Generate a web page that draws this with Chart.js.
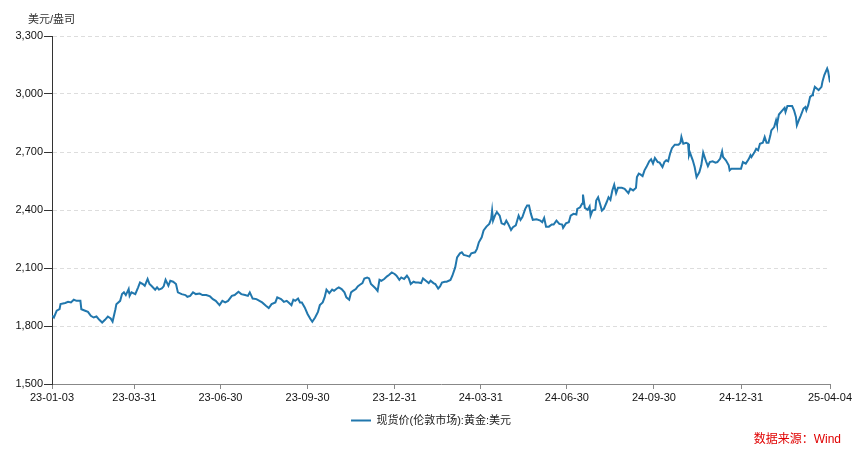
<!DOCTYPE html>
<html>
<head>
<meta charset="utf-8">
<title>现货价(伦敦市场):黄金:美元</title>
<script src="https://cdn.jsdelivr.net/npm/chart.js@4.4.1/dist/chart.umd.min.js"></script>
<style>
    html, body { margin: 0; padding: 0; background: #fff; }
    #wrap { width: 864px; height: 458px; }
</style>
</head>
<body>
<div id="wrap"><canvas id="goldChart" width="864" height="458"></canvas></div>
<script>
// days counted from 2023-01-03
const dayOffsets = [
    0, 2, 5, 8, 9, 14, 17, 20, 23, 26, 30, 31,
    35, 38, 41, 44, 47, 50, 53, 56, 59, 62, 64, 67,
    68, 72, 74, 76, 78, 81, 82, 84, 88, 91, 93, 96,
    98, 101, 103, 105, 109, 111, 113, 116, 118, 120, 123, 125,
    128, 131, 133, 137, 141, 143, 146, 149, 152, 156, 159, 163,
    167, 170, 173, 177, 180, 183, 186, 190, 193, 197, 200, 204,
    207, 209, 212, 216, 222, 226, 229, 232, 236, 238, 242, 245,
    248, 250, 253, 255, 257, 260, 262, 264, 267, 270, 273, 275,
    278, 281, 283, 286, 288, 290, 293, 296, 298, 301, 303, 306,
    309, 311, 314, 316, 318, 321, 323, 325, 328, 330, 333, 335,
    337, 339, 342, 344, 346, 348, 351, 354, 356, 359, 362, 364,
    367, 369, 372, 375, 377, 379, 382, 384, 387, 390, 392, 395,
    398, 400, 403, 405, 408, 410, 412, 415,
    417, 421, 423, 426, 428, 431, 433, 435, 438, 441, 443, 447,
    449, 451, 454, 456, 459, 462, 464, 465, 466, 468, 470, 473,
    475, 478, 480, 482, 485, 487, 490, 493, 495, 497, 500, 502,
    504, 506, 508, 512, 516, 518, 520, 522, 525, 528, 530, 533,
    536, 539, 540, 543, 546, 548, 551, 554, 555, 558, 560, 561,
    563, 566, 568, 569, 571, 574, 575, 577, 579, 581, 583, 586,
    588, 590, 592, 594, 596, 598, 602, 605, 609, 611, 614, 617, 618, 620,
    622, 624, 626, 628, 631, 633, 635, 637, 640, 642, 645, 647,
    649, 651, 653, 655, 658, 662, 664, 665, 667, 670, 672, 673,
    674, 677, 679, 681, 684, 686, 688, 691, 693, 695, 698, 701,
    703, 706, 708, 709, 712, 715, 716, 718, 722, 725, 728, 730,
    733, 736, 738, 739, 742, 744, 746, 748, 751, 753, 755, 757,
    759, 760, 763, 765, 766, 768, 771, 774, 775, 777, 780, 782,
    784, 786, 787, 789, 791, 794, 796, 797, 799, 801, 803, 804,
    806, 808, 810, 813, 814, 816, 819, 820, 822
];

// 美元/盎司
const goldPrices = [
    1853, 1844, 1879, 1887, 1913, 1919, 1925, 1922, 1936, 1930, 1930, 1887,
    1879, 1873, 1853, 1844, 1849, 1832, 1818, 1832, 1849, 1839, 1823, 1887,
    1913, 1930, 1965, 1974, 1960, 1991, 1956, 1974, 1965, 2000, 2025, 2017,
    2008, 2043, 2017, 2008, 1988, 2000, 1988, 1994, 2005, 2039, 2008, 2034,
    2029, 2017, 1974, 1965, 1960, 1951, 1956, 1974, 1965, 1968, 1960, 1960,
    1953, 1939, 1930, 1908, 1930, 1922, 1930, 1956, 1960, 1977, 1965, 1960,
    1956, 1974, 1942, 1939, 1922, 1905, 1893, 1913, 1922, 1948, 1939, 1925,
    1930, 1922, 1908, 1936, 1930, 1942, 1922, 1922, 1896, 1862, 1836, 1822,
    1844, 1873, 1908, 1922, 1948, 1988, 1970, 1988, 1982, 1994, 2000, 1991,
    1974, 1948, 1936, 1974, 1982, 1991, 2005, 2012, 2022, 2046, 2051, 2046,
    2017, 2008, 1994, 1982, 2039, 2034, 2043, 2057, 2064, 2077, 2069, 2060,
    2039, 2051, 2043, 2060, 2046, 2017, 2029, 2025, 2025, 2022, 2046, 2034,
    2022, 2034, 2022, 2017, 1994, 2005, 2025, 2029,
    2029, 2038, 2060, 2103, 2155, 2176, 2181, 2168, 2164, 2159, 2176, 2181,
    2199, 2233, 2259, 2294, 2314, 2328, 2354, 2397, 2345, 2371, 2389, 2371,
    2331, 2325, 2345, 2328, 2297, 2311, 2320, 2371, 2349, 2363, 2406, 2423,
    2423, 2380, 2349, 2352, 2345, 2337, 2359, 2314, 2314, 2325, 2325, 2345,
    2328, 2325, 2308, 2331, 2337, 2371, 2380, 2377, 2406, 2414, 2432, 2480,
    2411, 2401, 2418, 2371, 2397, 2401, 2449, 2466, 2432, 2397, 2406, 2440,
    2466, 2453, 2501, 2531, 2487, 2515, 2515, 2510, 2487, 2510, 2501, 2515, 2570, 2588,
    2583, 2575, 2605, 2622, 2652, 2662, 2640, 2669, 2648, 2645, 2622, 2648,
    2657, 2652, 2691, 2720, 2738, 2738, 2748, 2778, 2743, 2748, 2743, 2683,
    2697, 2657, 2622, 2570, 2596, 2631, 2697, 2652, 2627, 2648, 2652, 2645,
    2648, 2666, 2703, 2674, 2657, 2631, 2605, 2614, 2614, 2614, 2614, 2648,
    2640, 2662, 2683, 2674, 2697, 2717, 2709, 2743, 2748, 2778, 2748, 2748,
    2786, 2812, 2829, 2864, 2842, 2894, 2911, 2928, 2907, 2938, 2938, 2938,
    2916, 2881, 2838, 2864, 2887, 2925, 2933, 2916, 2942, 2985, 2994, 3003,
    3037, 3029, 3020, 3037, 3063, 3098, 3132, 3118, 3060
];

const tickDays = [0, 87, 178, 270, 362, 453, 544, 636, 728, 822];
const tickLabels = ['23-01-03', '23-03-31', '23-06-30', '23-09-30', '23-12-31',
    '24-03-31', '24-06-30', '24-09-30', '24-12-31', '25-04-04'];

const seriesName = '现货价(伦敦市场):黄金:美元';
const unitLabel = '美元/盎司';
const sourceLabel = '数据来源：Wind';

Chart.defaults.font.family = '"Liberation Sans", Arial, "Noto Sans CJK SC", sans-serif';
Chart.defaults.color = '#222';

const extraText = {
    id: 'extraText',
    afterLayout(chart) {
        // centre the legend on the page, not on the padded box
        chart.legend.left += 16;
        chart.legend.right += 16;
    },
    afterDraw(chart) {
        const ctx = chart.ctx;
        ctx.save();
        ctx.font = '11px "Liberation Sans", "Noto Sans CJK SC", sans-serif';
        ctx.fillStyle = '#333';
        ctx.textAlign = 'left';
        ctx.textBaseline = 'middle';
        ctx.fillText(unitLabel, 28, 20);

        ctx.font = '12px "Liberation Sans", "Noto Sans CJK SC", sans-serif';
        ctx.fillStyle = '#e00000';
        ctx.textAlign = 'right';
        ctx.fillText(sourceLabel, 841, 440);
        ctx.restore();
    }
};

const points = dayOffsets.map((d, i) => ({ x: d, y: goldPrices[i] }));

new Chart(document.getElementById('goldChart'), {
    type: 'line',
    data: {
        datasets: [{
            label: seriesName,
            data: points,
            borderColor: '#2177ad',
            backgroundColor: '#2177ad',
            borderWidth: 2,
            pointRadius: 0,
            tension: 0,
            fill: false
        }]
    },
    options: {
        responsive: false,
        animation: false,
        layout: { padding: { top: 36, right: 34, bottom: 22, left: 0 } },
        plugins: {
            legend: {
                position: 'bottom',
                labels: {
                    usePointStyle: true,
                    pointStyle: 'line',
                    pointStyleWidth: 20,
                    padding: 10,
                    color: '#222',
                    font: { size: 11 }
                }
            },
            tooltip: { enabled: false }
        },
        scales: {
            x: {
                type: 'linear',
                min: 0,
                max: 822,
                afterBuildTicks: scale => { scale.ticks = tickDays.map(v => ({ value: v })); },
                afterFit: scale => { scale.height = 21; },
                ticks: {
                    autoSkip: false,
                    maxRotation: 0,
                    padding: 2,
                    color: '#111',
                    font: { size: 11 },
                    callback: (value, index) => tickLabels[index]
                },
                grid: { drawOnChartArea: false, tickLength: 5, color: '#888' },
                border: { color: '#888', width: 1 }
            },
            y: {
                min: 1500,
                max: 3300,
                afterFit: scale => { scale.width = 52; },
                ticks: {
                    stepSize: 300,
                    padding: 1,
                    color: '#111',
                    font: { size: 11 },
                    callback: v => v.toLocaleString('en-US')
                },
                grid: {
                    color: ctx => ctx.tick && ctx.tick.value === 1500 ? 'rgba(0,0,0,0)' : '#dddddd',
                    tickColor: '#333',
                    tickLength: 8
                },
                border: { color: '#333', width: 1, dash: [4, 3] }
            }
        }
    },
    plugins: [extraText]
});
</script>
</body>
</html>
